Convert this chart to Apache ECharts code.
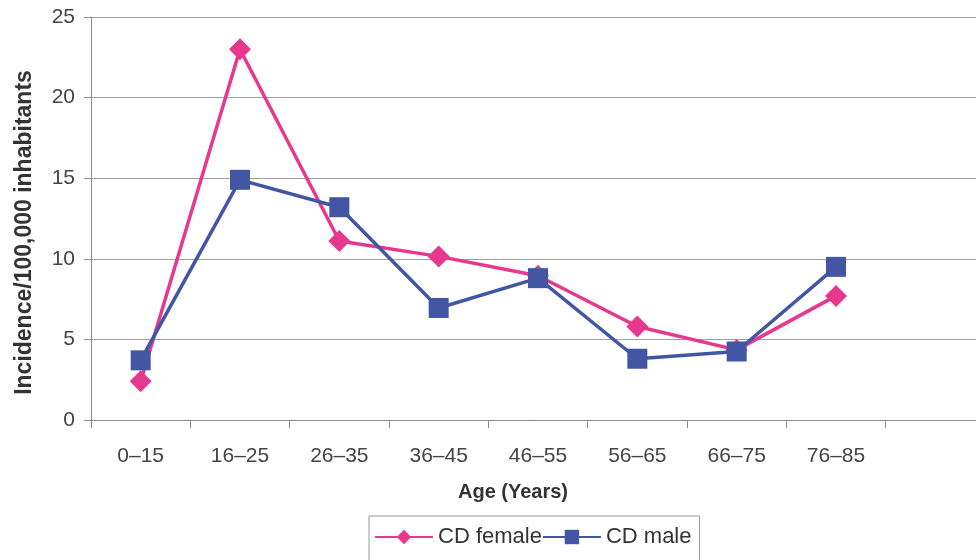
<!DOCTYPE html>
<html>
<head>
<meta charset="utf-8">
<script src="https://cdn.jsdelivr.net/npm/echarts@6/dist/echarts.min.js"></script>
<style>
  html, body { margin: 0; padding: 0; background: #fff; }
  #chart { width: 976px; height: 560px; }
</style>
</head>
<body>
<div id="chart"></div>
<script>
// Age groups (last slot left empty, as on the printed axis)
const ageGroups = ['0–15', '16–25', '26–35', '36–45', '46–55', '56–65', '66–75', '76–85', ''];
// Incidence per 100,000 inhabitants
const cdFemale = [2.4, 23.0, 11.1, 10.15, 8.95, 5.8, 4.35, 7.7];
const cdMale = [3.7, 14.9, 13.2, 6.95, 8.8, 3.8, 4.25, 9.5];
const yTicks = { min: 0, max: 25, interval: 5 };

const FONT = '"Liberation Sans", Arial, sans-serif';
const PINK = '#E6388F';
const BLUE = '#4256A4';
const AXIS = '#8c8c8c';

const chart = echarts.init(document.getElementById('chart'), null, { renderer: 'canvas' });

chart.setOption({
  animation: false,
  backgroundColor: '#fff',
  textStyle: { fontFamily: FONT },
  grid: {
    left: 91, right: -9, top: 17, bottom: 140,
    containLabel: false, outerBoundsMode: 'none'
  },
  legend: {
    left: 369, top: 516,
    padding: [10, 8, 40, 5],
    itemGap: 0,
    itemWidth: 58, itemHeight: 18,
    borderColor: '#9a9a9a', borderWidth: 1,
    textStyle: { fontSize: 22, color: '#333', fontFamily: FONT },
    data: ['CD female', 'CD male']
  },
  xAxis: {
    type: 'category',
    data: ageGroups,
    boundaryGap: true,
    name: 'Age (Years)',
    nameLocation: 'middle',
    nameGap: 62,
    nameTextStyle: { fontSize: 20, fontWeight: 'bold', color: '#333', fontFamily: FONT, padding: [0, 0, 0, -50] },
    axisLine: { lineStyle: { color: AXIS, width: 1 } },
    axisTick: { show: true, length: 8, lineStyle: { color: AXIS } },
    axisLabel: { fontSize: 21, color: '#444', margin: 26, fontFamily: FONT },
    splitLine: { show: false }
  },
  yAxis: {
    type: 'value',
    min: yTicks.min, max: yTicks.max, interval: yTicks.interval,
    name: 'Incidence/100,000 inhabitants',
    nameLocation: 'middle',
    nameGap: 55,
    nameRotate: 90,
    nameTextStyle: { fontSize: 23, fontWeight: 'bold', color: '#333', fontFamily: FONT, padding: [0, 28, 0, 0] },
    axisLine: { show: true, lineStyle: { color: AXIS, width: 1 } },
    axisTick: { show: true, length: 7, lineStyle: { color: AXIS } },
    axisLabel: { fontSize: 21, color: '#444', margin: 16, fontFamily: FONT },
    splitLine: { show: true, lineStyle: { color: '#a0a0a0', width: 1 } }
  },
  series: [
    {
      name: 'CD female',
      type: 'line',
      data: cdFemale,
      symbol: 'diamond',
      symbolSize: 22,
      lineStyle: { color: PINK, width: 3.5 },
      itemStyle: { color: PINK, borderWidth: 0 },
      z: 2
    },
    {
      name: 'CD male',
      type: 'line',
      data: cdMale,
      symbol: 'rect',
      symbolSize: 20,
      lineStyle: { color: BLUE, width: 3.5 },
      itemStyle: { color: BLUE, borderWidth: 0 },
      z: 3
    }
  ]
});
</script>
</body>
</html>
